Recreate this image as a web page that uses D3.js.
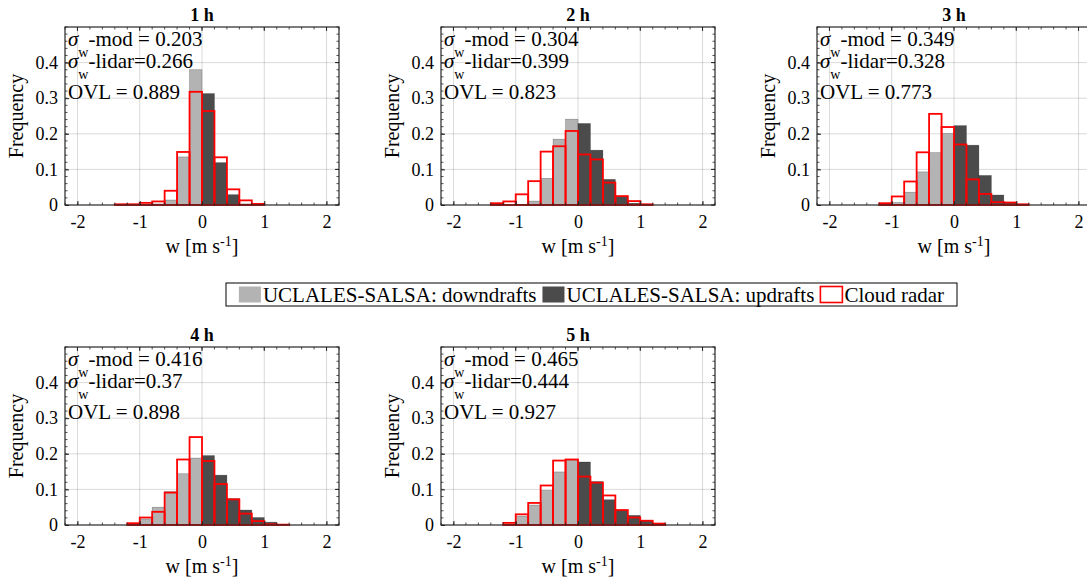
<!DOCTYPE html>
<html><head><meta charset="utf-8">
<script src="https://cdn.jsdelivr.net/npm/d3@7"></script>
<style>
html,body{margin:0;padding:0;background:#fff;overflow:hidden}
svg{display:block}
text{font-family:"Liberation Serif","Times New Roman",Times,"Nimbus Roman","DejaVu Serif",serif;fill:#000}
</style></head><body>
<svg id="chart" width="1087" height="584"></svg>
<script>
const panelTitles = ["1 h","2 h","3 h","4 h","5 h"];
const sigmaMod = ["0.203","0.304","0.349","0.416","0.465"];
const sigmaLidar = ["0.266","0.399","0.328","0.37","0.444"];
const ovlValues = ["0.889","0.823","0.773","0.898","0.927"];
const binWidth = 0.2;
const downStart = [-1.0,-1.0,-1.2,-1.2,-1.2];
const downdrafts = [
  [0.001,0.003,0.014,0.135,0.380],
  [0.002,0.011,0.075,0.185,0.241],
  [0.001,0.007,0.036,0.093,0.147,0.201],
  [0.002,0.017,0.050,0.094,0.144,0.188],
  [0.003,0.025,0.056,0.097,0.149,0.183]
];
const upStart = [0,0,0,0,0];
const updrafts = [
  [0.313,0.119,0.029,0.003,0.001],
  [0.229,0.154,0.072,0.024,0.005],
  [0.223,0.168,0.083,0.028,0.007,0.001],
  [0.195,0.140,0.074,0.042,0.021,0.008,0.002],
  [0.177,0.122,0.071,0.042,0.027,0.011,0.004]
];
const radarStart = [-1.4,-1.4,-1.2,-1.2,-1.2];
const cloudRadar = [
  [0.002,0.002,0.006,0.010,0.040,0.149,0.318,0.264,0.134,0.044,0.013,0.003],
  [0.005,0.010,0.030,0.067,0.150,0.165,0.208,0.142,0.128,0.063,0.025,0.011,0.002],
  [0.005,0.024,0.066,0.148,0.256,0.219,0.170,0.072,0.031,0.008,0.007,0.002],
  [0.005,0.021,0.037,0.091,0.184,0.247,0.180,0.115,0.072,0.032,0.011,0.002,0.001],
  [0.006,0.030,0.062,0.111,0.181,0.184,0.136,0.119,0.083,0.042,0.021,0.012,0.004]
];
const xTicks = [-2,-1,0,1,2];
const yTicks = [0,0.1,0.2,0.3,0.4];
const xDomain = [-2.2,2.2];
const yDomain = [0,0.5];
const legendLabels = ["UCLALES-SALSA: downdrafts","UCLALES-SALSA: updrafts","Cloud radar"];
const xLabelMain = "w [m s";
const xLabelSup = "-1";
const yLabel = "Frequency";

const FONT = '"Liberation Serif","Times New Roman",Times,"Nimbus Roman","DejaVu Serif",serif';
const colDown = "#b3b3b3", colUp = "#4b4b4b", colRadar = "#ff0000", colAxis = "#262626";
const svg = d3.select("#chart");
const W = 274, H = 178;
const colX = [65, 441, 817], rowY = [27, 347];
const pos = [[0,0],[1,0],[2,0],[0,1],[1,1]];

function bins(start, vals){
  return vals.map((v,i)=>({x0: Math.round((start + i*binWidth)*10)/10, x1: Math.round((start+(i+1)*binWidth)*10)/10, v}));
}

pos.forEach(([c,r], p) => {
  const g = svg.append("g").attr("transform", `translate(${colX[c]},${rowY[r]})`);
  const x = d3.scaleLinear().domain(xDomain).range([0,W]);
  const y = d3.scaleLinear().domain(yDomain).range([H,0]);

  g.append("g").selectAll("line").data(xTicks).join("line")
    .attr("x1", d=>x(d)).attr("x2", d=>x(d)).attr("y1",0).attr("y2",H)
    .attr("stroke","#000").attr("stroke-opacity",0.15).attr("stroke-width",1);
  g.append("g").selectAll("line").data(yTicks.filter(d=>d>0)).join("line")
    .attr("y1", d=>y(d)).attr("y2", d=>y(d)).attr("x1",0).attr("x2",W)
    .attr("stroke","#000").attr("stroke-opacity",0.15).attr("stroke-width",1);

  g.append("g").selectAll("rect").data(bins(downStart[p], downdrafts[p])).join("rect")
    .attr("x", d=>x(d.x0)).attr("width", d=>x(d.x1)-x(d.x0))
    .attr("y", d=>y(d.v)).attr("height", d=>H-y(d.v))
    .attr("fill", colDown).attr("stroke","#000").attr("stroke-opacity",0.35).attr("stroke-width",0.6);
  g.append("g").selectAll("rect").data(bins(upStart[p], updrafts[p])).join("rect")
    .attr("x", d=>x(d.x0)).attr("width", d=>x(d.x1)-x(d.x0))
    .attr("y", d=>y(d.v)).attr("height", d=>H-y(d.v))
    .attr("fill", colUp).attr("stroke","#000").attr("stroke-opacity",0.35).attr("stroke-width",0.6);
  g.append("g").selectAll("rect").data(bins(radarStart[p], cloudRadar[p])).join("rect")
    .attr("x", d=>x(d.x0)).attr("width", d=>x(d.x1)-x(d.x0))
    .attr("y", d=>y(d.v)).attr("height", d=>H-y(d.v))
    .attr("fill", "none").attr("stroke", colRadar).attr("stroke-width",1.8);

  const xa = g.append("g").attr("transform",`translate(0,${H})`)
    .call(d3.axisBottom(x).tickValues(xTicks).tickSizeInner(-4).tickSizeOuter(0).tickPadding(10).tickFormat(d=>String(d)));
  const ya = g.append("g")
    .call(d3.axisLeft(y).tickValues(yTicks).tickSizeInner(-4).tickSizeOuter(0).tickPadding(7).tickFormat(d=>String(d)));
  [xa, ya].forEach(a => {
    a.attr("font-family", null).attr("font-size", null);
    a.select(".domain").remove();
    a.selectAll("line").attr("stroke", colAxis);
    a.selectAll("text").style("font-family",FONT).style("font-size","18px").attr("fill","#000");
  });
  g.append("g").selectAll("line").data(xTicks).join("line")
    .attr("x1",d=>x(d)).attr("x2",d=>x(d)).attr("y1",0).attr("y2",4).attr("stroke",colAxis);
  g.append("g").selectAll("line").data(yTicks).join("line")
    .attr("y1",d=>y(d)).attr("y2",d=>y(d)).attr("x1",W).attr("x2",W-4).attr("stroke",colAxis);
  const xMinor = d3.range(-22,23,2).map(d=>d/10);
  const yMinor = d3.range(0,51,2).map(d=>d/100);
  const mg = g.append("g").attr("stroke",colAxis).attr("stroke-width",0.8);
  xMinor.forEach(v => {
    mg.append("line").attr("x1",x(v)).attr("x2",x(v)).attr("y1",H).attr("y2",H-2.5);
    mg.append("line").attr("x1",x(v)).attr("x2",x(v)).attr("y1",0).attr("y2",2.5);
  });
  yMinor.forEach(v => {
    mg.append("line").attr("y1",y(v)).attr("y2",y(v)).attr("x1",0).attr("x2",2.5);
    mg.append("line").attr("y1",y(v)).attr("y2",y(v)).attr("x1",W).attr("x2",W-2.5);
  });
  g.append("rect").attr("x",0).attr("y",0).attr("width",W).attr("height",H)
    .attr("fill","none").attr("stroke",colAxis).attr("stroke-width",1.2);

  g.append("text").attr("x",W/2).attr("y",-6).attr("text-anchor","middle")
    .style("font-family",FONT).style("font-size","18px").style("font-weight","bold").text(panelTitles[p]);

  const fs = 21;
  const t1 = g.append("text").attr("x",3).attr("y",18.7).style("font-family",FONT).style("font-size",fs+"px");
  t1.append("tspan").style("font-style","italic").text("σ");
  t1.append("tspan").attr("dy",11).style("font-size","14px").text("w");
  t1.append("tspan").attr("dy",-11).text("-mod = " + sigmaMod[p]);
  const t2 = g.append("text").attr("x",3).attr("y",41).style("font-family",FONT).style("font-size",fs+"px");
  t2.append("tspan").style("font-style","italic").text("σ");
  t2.append("tspan").attr("dy",11).style("font-size","14px").text("w");
  t2.append("tspan").attr("dy",-11).text("-lidar=" + sigmaLidar[p]);
  g.append("text").attr("x",3).attr("y",72).style("font-family",FONT).style("font-size",fs+"px").text("OVL = " + ovlValues[p]);

  const xl = g.append("text").attr("x",W/2).attr("y",H+48).attr("text-anchor","middle").style("font-family",FONT).style("font-size","20px");
  xl.append("tspan").text(xLabelMain);
  xl.append("tspan").attr("dy",-7).style("font-size","14px").text(xLabelSup);
  xl.append("tspan").attr("dy",7).text("]");
  g.append("text").attr("transform",`translate(${-42},${H/2}) rotate(-90)`).attr("text-anchor","middle")
    .style("font-family",FONT).style("font-size","20px").text(yLabel);
});

const lg = svg.append("g");
const legendColors = [colDown, colUp, "none"];
const legendStroke = ["none","none",colRadar];
const lfs = 21;
let cx = 0;
legendLabels.forEach((lab,i) => {
  const it = lg.append("g");
  it.append("rect").attr("x",cx).attr("y",-8).attr("width",22).attr("height",16)
    .attr("fill",legendColors[i]).attr("stroke",legendStroke[i]).attr("stroke-width",1.6);
  const t = it.append("text").attr("x",cx+24).attr("y",0).attr("dy","0.35em").style("font-family",FONT).style("font-size",lfs+"px").text(lab);
  const w = t.node().getComputedTextLength();
  cx += 24 + w + 6;
});
const totalW = cx - 6;
const legX0 = 226, legX1 = 957, legY0 = 283, legY1 = 306;
const inner = legX0 + ((legX1-legX0) - totalW)/2;
lg.attr("transform",`translate(${inner},${(legY0+legY1)/2})`);
svg.append("rect").attr("x",legX0).attr("y",legY0).attr("width",legX1-legX0).attr("height",legY1-legY0)
  .attr("fill","none").attr("stroke","#000").attr("stroke-width",1);
</script>
</body></html>
